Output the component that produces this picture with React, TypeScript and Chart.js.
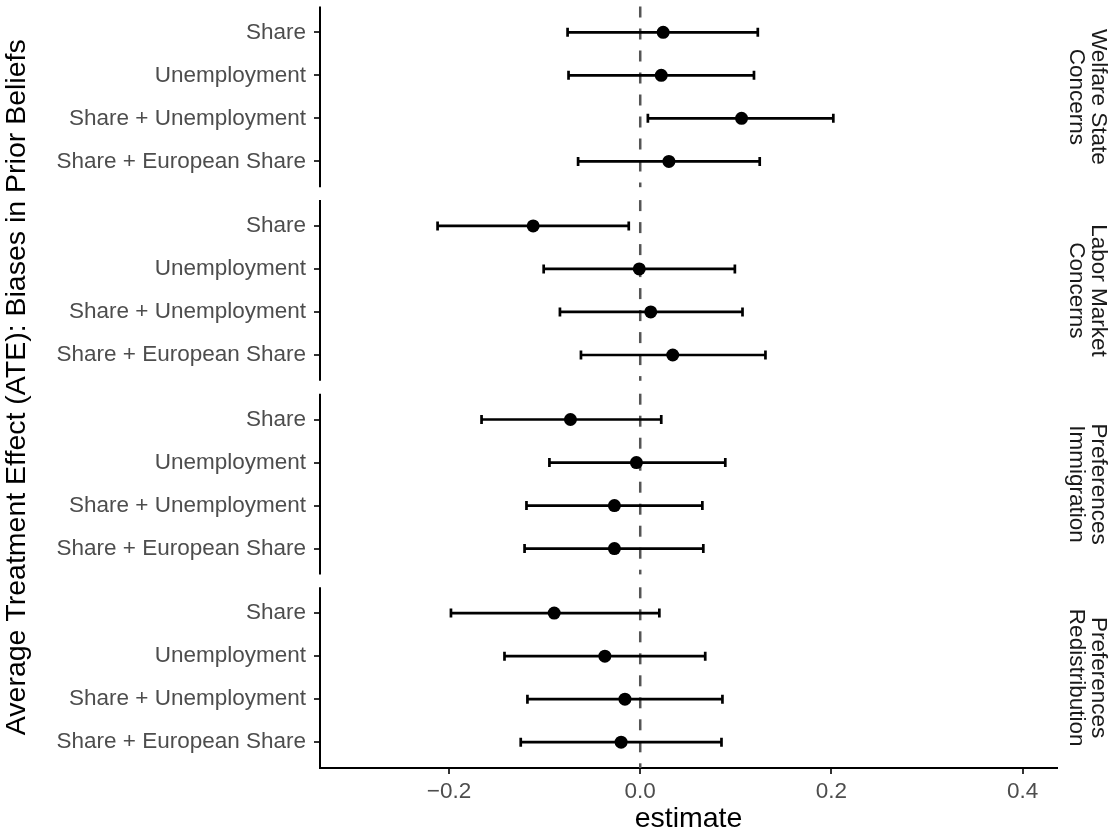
import React, { useEffect, useRef } from 'react';
import { Chart, registerables } from 'chart.js';

Chart.register(...registerables);

const treatments = ['Share', 'Unemployment', 'Share + Unemployment', 'Share + European Share'];
const outcomes = [
    ['Welfare State', 'Concerns'],
    ['Labor Market', 'Concerns'],
    ['Preferences', 'Immigration'],
    ['Preferences', 'Redistribution'],
];

const welfareEstimate = [0.024, 0.022, 0.106, 0.030];
const welfareLower = [-0.076, -0.075, 0.008, -0.065];
const welfareUpper = [0.123, 0.119, 0.202, 0.125];

const laborEstimate = [-0.112, -0.001, 0.011, 0.034];
const laborLower = [-0.212, -0.101, -0.084, -0.062];
const laborUpper = [-0.012, 0.099, 0.107, 0.131];

const immigrationEstimate = [-0.073, -0.004, -0.027, -0.027];
const immigrationLower = [-0.166, -0.095, -0.119, -0.121];
const immigrationUpper = [0.022, 0.089, 0.065, 0.066];

const redistributionEstimate = [-0.090, -0.037, -0.016, -0.020];
const redistributionLower = [-0.198, -0.142, -0.118, -0.125];
const redistributionUpper = [0.020, 0.068, 0.086, 0.085];

const xTicks = [-0.2, 0, 0.2, 0.4];

const estimates = [welfareEstimate, laborEstimate, immigrationEstimate, redistributionEstimate];
const lowers = [welfareLower, laborLower, immigrationLower, redistributionLower];
const uppers = [welfareUpper, laborUpper, immigrationUpper, redistributionUpper];

// facet layout: each panel holds 4 rows, panels are 4.5 row-units apart
const PITCH = 4.5;
const EXPAND = 0.6;
const rowPos = (p: number, r: number) => p * PITCH + r;
const rowPositions: number[] = [];
const rowLabels: string[] = [];
outcomes.forEach((_, p) => treatments.forEach((t, r) => {
    rowPositions.push(rowPos(p, r));
    rowLabels.push(t);
}));

const FONT = "'Liberation Sans', Arial, sans-serif";

const facetPlugin = {
    id: 'facets',
    beforeDatasetsDraw(chart: any) {
        const { ctx, chartArea, scales } = chart;
        const x = scales.x;
        const y = scales.y;
        const x0 = x.getPixelForValue(0);
        ctx.save();
        outcomes.forEach((_, p) => {
            const top = y.getPixelForValue(rowPos(p, 0) - EXPAND);
            const bottom = y.getPixelForValue(rowPos(p, 3) + EXPAND);
            // left axis line for this panel
            ctx.setLineDash([]);
            ctx.strokeStyle = '#000';
            ctx.lineWidth = 2;
            ctx.beginPath();
            ctx.moveTo(chartArea.left, top);
            ctx.lineTo(chartArea.left, bottom + (p === 3 ? 1 : 0));
            ctx.stroke();
            // zero reference line
            ctx.strokeStyle = '#555';
            ctx.lineWidth = 2.5;
            ctx.setLineDash([11, 11]);
            ctx.beginPath();
            ctx.moveTo(x0, top);
            ctx.lineTo(x0, bottom);
            ctx.stroke();
            // error bars
            ctx.setLineDash([]);
            ctx.strokeStyle = '#000';
            ctx.lineWidth = 2.7;
            treatments.forEach((__, r) => {
                const py = y.getPixelForValue(rowPos(p, r));
                const lo = x.getPixelForValue(lowers[p][r]);
                const hi = x.getPixelForValue(uppers[p][r]);
                ctx.beginPath();
                ctx.moveTo(lo, py);
                ctx.lineTo(hi, py);
                ctx.moveTo(lo, py - 4.5);
                ctx.lineTo(lo, py + 4.5);
                ctx.moveTo(hi, py - 4.5);
                ctx.lineTo(hi, py + 4.5);
                ctx.stroke();
            });
        });
        ctx.restore();
    },
    afterDraw(chart: any) {
        const { ctx, scales } = chart;
        const y = scales.y;
        ctx.save();
        ctx.fillStyle = '#1a1a1a';
        ctx.font = `22.5px ${FONT}`;
        ctx.textAlign = 'center';
        ctx.textBaseline = 'middle';
        outcomes.forEach((lines, p) => {
            const cy = y.getPixelForValue(rowPos(p, 1.5));
            ctx.save();
            ctx.translate(1087, cy);
            ctx.rotate(Math.PI / 2);
            ctx.fillText(lines[0], 0, -11);
            ctx.fillText(lines[1], 0, 11);
            ctx.restore();
        });
        ctx.restore();
    },
};

const App: React.FC = () => {
    const canvasRef = useRef<HTMLCanvasElement>(null);

    useEffect(() => {
        if (!canvasRef.current) return;

        const points: { x: number; y: number }[] = [];
        estimates.forEach((est, p) => est.forEach((v, r) => points.push({ x: v, y: rowPos(p, r) })));

        const chart = new Chart(canvasRef.current, {
            type: 'scatter',
            data: {
                datasets: [{
                    data: points,
                    backgroundColor: '#000',
                    borderColor: '#000',
                    pointRadius: 6.5,
                    pointHoverRadius: 6.5,
                    borderWidth: 0,
                }],
            },
            options: {
                responsive: false,
                animation: false,
                layout: { padding: { top: 3, right: 58, left: 0, bottom: 0 } },
                plugins: {
                    legend: { display: false },
                    tooltip: { enabled: false },
                },
                scales: {
                    x: {
                        type: 'linear',
                        min: -0.335,
                        max: 0.436,
                        afterBuildTicks: (scale: any) => {
                            scale.ticks = xTicks.map(v => ({ value: v }));
                        },
                        afterFit: (scale: any) => {
                            scale.height = 68;
                            scale.paddingLeft = 0;
                            scale.paddingRight = 0;
                        },
                        grid: { drawOnChartArea: false, drawTicks: true, tickLength: 6, color: '#333', lineWidth: 2 },
                        border: { display: true, color: '#000', width: 2 },
                        ticks: {
                            padding: 4,
                            color: '#4d4d4d',
                            font: { family: FONT, size: 22.5 },
                            callback: (v: any) => {
                                const n = Number(v);
                                return (n < 0 ? '\u2212' : '') + Math.abs(n).toFixed(1);
                            },
                        },
                        title: {
                            display: true,
                            text: 'estimate',
                            color: '#000',
                            font: { family: FONT, size: 28.5 },
                            padding: { top: 0, bottom: 0 },
                        },
                    },
                    y: {
                        type: 'linear',
                        reverse: true,
                        min: rowPos(0, 0) - EXPAND,
                        max: rowPos(3, 3) + EXPAND,
                        afterBuildTicks: (scale: any) => {
                            scale.ticks = rowPositions.map(v => ({ value: v }));
                        },
                        afterFit: (scale: any) => {
                            scale.width = 320;
                            scale.paddingTop = 0;
                            scale.paddingBottom = 0;
                        },
                        grid: { drawOnChartArea: false, drawTicks: true, tickLength: 6, color: '#333', lineWidth: 2 },
                        border: { display: false },
                        ticks: {
                            autoSkip: false,
                            padding: 8,
                            color: '#4d4d4d',
                            font: { family: FONT, size: 22.5 },
                            callback: (v: any) => {
                                const i = rowPositions.indexOf(Number(v));
                                return i >= 0 ? rowLabels[i] : '';
                            },
                        },
                        title: {
                            display: true,
                            text: 'Average Treatment Effect (ATE): Biases in Prior Beliefs',
                            color: '#000',
                            font: { family: FONT, size: 28.5 },
                            padding: { top: 0, bottom: 0 },
                        },
                    },
                },
            },
            plugins: [facetPlugin],
        });

        return () => {
            chart.destroy();
        };
    }, []);

    return (
        <div style={{ position: 'fixed', left: 0, top: 0, width: 1115, height: 836, background: '#fff' }}>
            <canvas ref={canvasRef} width="1115" height="836"></canvas>
        </div>
    );
};

export default App;
